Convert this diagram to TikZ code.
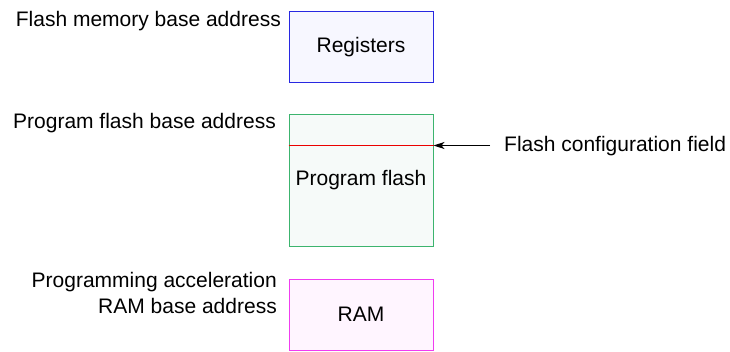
\documentclass[tikz,border=0pt]{standalone}
\usepackage{fontspec}
\setmainfont{Liberation Sans}
\usetikzlibrary{arrows.meta}
\definecolor{regline}{RGB}{40,40,225}
\definecolor{regfill}{RGB}{247,247,255}
\definecolor{pfline}{RGB}{60,180,110}
\definecolor{pffill}{RGB}{246,250,249}
\definecolor{ramline}{RGB}{240,60,240}
\definecolor{ramfill}{RGB}{255,245,255}
\definecolor{cfgred}{RGB}{235,0,0}
\tikzset{
  membox/.style={draw, line width=1pt, minimum width=144pt, inner sep=0pt, font=\fontsize{21}{25}\selectfont},
  lbl/.style={inner sep=0pt, font=\fontsize{21}{25}\selectfont, text=black},
  cfgline/.style={draw=cfgred, line width=1.2pt},
}
\begin{document}
\begin{tikzpicture}[x=1pt,y=-1pt]
\useasboundingbox (0,0) rectangle (730,351);
\node[membox, draw=regline, fill=regfill, minimum height=71pt] (reg) at (361,47) {Registers};
\node[membox, draw=pfline, fill=pffill, minimum height=132pt] (pf) at (361,180) {};
\node[lbl, anchor=base] (pftext) at (361,185) {Program flash};
\node[membox, draw=ramline, fill=ramfill, minimum height=71pt] (ram) at (361,314.5) {RAM};
\coordinate (cfgL) at (pf.west |- 0,145.5);
\coordinate (cfgR) at (pf.east |- 0,145.5);
\coordinate (arrS) at (490,145.5);
\draw[cfgline] (cfgL) -- (cfgR);
\draw[-{Stealth[length=11pt,width=7pt,inset=3pt]}, line width=0.9pt] (arrS) -- (cfgR);
\node[lbl, anchor=base west] (cfg) at (504,151) {Flash configuration field};
\node[lbl, anchor=base east] (regaddr) at (281,26) {Flash memory base address};
\node[lbl, anchor=base east] (pfaddr) at (276,128) {Program flash base address};
\node[lbl, anchor=base east] (ramaddr1) at (277,287) {Programming acceleration};
\node[lbl, anchor=base east] (ramaddr2) at (277,313) {RAM base address};
\end{tikzpicture}
\end{document}
